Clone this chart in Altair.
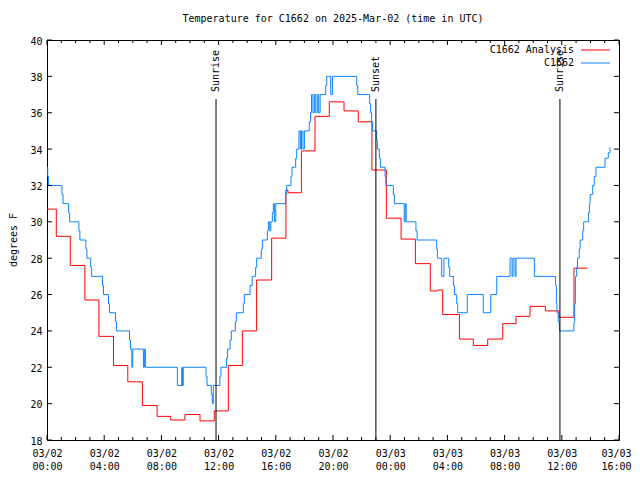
import json
import altair as alt
import pandas as pd

FONT = "DejaVu Sans Mono"

title_text = "Temperature for C1662 on 2025-Mar-02 (time in UTC)"
y_title = "degrees F"
legend_names = ["C1662 Analysis", "C1662"]
series_colors = ["#ff0000", "#0a84ff"]

# hours since 2025-03-02 00:00 UTC
obs_hours = [0.0, 0.05, 0.1, 1.05, 1.12, 1.51, 1.58, 2.23, 2.3, 2.72, 2.79, 3.05, 3.12,
             3.88, 3.95, 4.3, 4.37, 4.79, 4.86, 5.77, 5.84, 5.93, 6.0, 6.74, 6.81, 6.88,
             9.12, 9.42, 9.47, 9.53, 11.12, 11.19, 11.49, 11.56, 11.63, 12.09, 12.16,
             12.56, 12.63, 12.8, 12.89, 13.17, 13.24, 13.73, 13.8, 14.2, 14.35, 14.59, 14.66,
             14.99, 15.06, 15.41, 15.48, 15.58, 15.65, 15.76, 15.83, 15.9, 16.0, 16.69, 16.76,
             17.06, 17.13, 17.39, 17.46, 17.62, 17.72, 17.8, 17.9, 18.0, 18.34, 18.43,
             18.5, 18.6, 18.7, 18.8, 18.9, 19.0, 19.1, 19.49, 19.56, 19.84, 19.96,
             21.66, 21.73, 22.56, 22.63, 22.7, 22.77, 23.05, 23.1, 23.24, 23.31, 23.64, 23.7,
             24.22, 24.29, 24.98, 25.05, 25.12, 25.8, 25.88, 27.25, 27.3, 27.6, 27.76,
             28.09, 28.16, 28.42, 28.49, 28.65, 28.72, 29.39, 30.51, 31.03, 31.45,
             32.38, 32.52, 32.59, 32.73, 32.8, 34.08, 35.57, 35.62, 35.66, 35.75, 35.83,
             36.85, 36.9, 36.95, 37.04, 37.1, 37.22, 37.28, 37.46, 37.53, 37.86, 37.93,
             37.98, 38.16, 38.27, 38.39, 39.02, 39.25, 39.37]
obs_temps = [33, 32.5, 32, 31.5, 31, 30.5, 30, 29.5, 29, 28.5, 28, 27.5, 27,
             26.5, 26, 25.5, 25, 24.5, 24, 23.5, 23, 22, 23, 22, 23, 22,
             21, 22, 21, 22, 21.5, 21, 20.5, 20, 21, 21.5, 22,
             22.5, 23, 23.5, 24, 24.5, 25, 25.5, 26, 26.5, 27, 27.5, 28,
             28.5, 29, 29.5, 30, 29.5, 30, 30.5, 31, 30, 31, 31.5, 32,
             32.5, 33, 33.5, 34, 35, 34, 35, 34, 35, 35.5, 36,
             37, 36, 37, 36, 37, 36, 37, 37.5, 38, 37, 38,
             37.5, 37, 36.5, 36, 35.5, 35, 34.5, 34, 33.5, 33, 32.5, 32,
             31.5, 31, 30, 31, 30, 29.5, 29, 28.5, 28, 27, 28,
             27.5, 27, 26.5, 26, 25.5, 25, 26, 25, 26, 27,
             28, 27, 28, 27, 28, 27, 26.5, 25.5, 25, 24.5, 24,
             24.5, 25.5, 27, 27.5, 28, 28.5, 29, 29.5, 30, 30.5, 31,
             31.5, 32, 32.5, 33, 33.5, 33.8, 34.1]

ana_hours = [0.0, 0.65, 1.63, 2.65, 3.63, 4.65, 5.65, 6.67, 7.7, 8.65, 9.65, 10.7, 11.7,
             12.68, 13.66, 14.66, 15.71, 16.71, 16.85, 17.79, 18.74, 19.74, 20.77, 21.77,
             22.72, 23.73, 24.76, 25.76, 26.8, 27.3, 27.67, 28.84, 29.81, 30.82, 31.87,
             32.8, 33.78, 34.85, 35.8, 36.85, 37.8]
ana_temps = [30.7, 29.2, 27.6, 25.7, 23.7, 22.1, 21.2, 19.9, 19.3, 19.1, 19.4, 19.05, 19.6,
             22.1, 24.0, 26.8, 29.1, 31.75, 31.6, 33.9, 35.8, 36.6, 36.1, 35.5,
             32.85, 30.2, 29.05, 27.7, 26.2, 26.25, 24.9, 23.55, 23.2, 23.55, 24.4,
             24.8, 25.35, 25.1, 24.75, 27.45, 27.45]

sun_hours = [11.82, 23.0, 35.87]
sun_labels = ["Sunrise", "Sunset", "Sunrise"]

x_tick_hours = list(range(0, 41, 4))
x_tick_dates = ["03/02"] * 6 + ["03/03"] * 5
x_tick_times = ["00:00", "04:00", "08:00", "12:00", "16:00", "20:00",
                "00:00", "04:00", "08:00", "12:00", "16:00"]
x_minor_hours = [h for h in range(0, 41) if h % 4 != 0]
y_ticks = list(range(18, 41, 2))

W, H = 572, 400

label_expr = (
    f"[{json.dumps(x_tick_dates)}[indexof({json.dumps(x_tick_hours)}, datum.value)], "
    f"{json.dumps(x_tick_times)}[indexof({json.dumps(x_tick_hours)}, datum.value)]]"
)

xscale = alt.Scale(domain=[0, 40], nice=False, zero=False)
yscale = alt.Scale(domain=[18, 40], nice=False, zero=False)
xaxis = alt.Axis(values=x_tick_hours, ticks=False, domain=False, grid=False, title=None,
                 labelExpr=label_expr, labelPadding=8, labelBaseline="top",
                 labelLineHeight=13, labelFlush=False, labelOverlap=False, labelBound=False,
                 labelOffset={"condition": {"test": "datum.value == 40", "value": -3}, "value": 0},
                 labelFont=FONT, labelFontSize=10, labelColor="black")
yaxis = alt.Axis(values=y_ticks, ticks=False, domain=False, grid=False, title=None,
                 labelPadding=5, labelOffset=1, labelFont=FONT, labelFontSize=10,
                 labelColor="black", format="d", labelFlush=False, labelOverlap=False)


def X(field="h"):
    return alt.X(f"{field}:Q", scale=xscale, axis=xaxis)


def Y(field="t"):
    return alt.Y(f"{field}:Q", scale=yscale, axis=yaxis)


ana_df = pd.DataFrame({"h": ana_hours, "t": ana_temps})
obs_df = pd.DataFrame({"h": obs_hours, "t": obs_temps})

ana_line = alt.Chart(ana_df).mark_line(interpolate="step-after", color=series_colors[0],
                                       strokeWidth=1, clip=True).encode(x=X(), y=Y())
obs_line = alt.Chart(obs_df).mark_line(interpolate="step-after", color=series_colors[1],
                                       strokeWidth=1, clip=True).encode(x=X(), y=Y())

sun_df = pd.DataFrame({"h": sun_hours, "label": sun_labels})
sun_rules = alt.Chart(sun_df).mark_rule(color="black", strokeWidth=1).encode(
    x=X(), y=alt.value(59), y2=alt.value(H))
sun_text = alt.Chart(sun_df).mark_text(angle=270, align="left", baseline="middle",
                                       font=FONT, fontSize=10, color="black").encode(
    x=X(), y=alt.value(52), text="label:N")

yt_df = pd.DataFrame({"t": y_ticks})
ytick_left = alt.Chart(yt_df).mark_rule(color="black").encode(
    y=Y(), x=alt.value(0), x2=alt.value(5))
ytick_right = alt.Chart(yt_df).mark_rule(color="black").encode(
    y=Y(), x=alt.value(W - 5), x2=alt.value(W))

xmaj_df = pd.DataFrame({"h": x_tick_hours})
xmin_df = pd.DataFrame({"h": x_minor_hours})
xtick_major_b = alt.Chart(xmaj_df).mark_rule(color="black").encode(
    x=X(), y=alt.value(H - 5), y2=alt.value(H))
xtick_major_t = alt.Chart(xmaj_df).mark_rule(color="black").encode(
    x=X(), y=alt.value(0), y2=alt.value(5))
xtick_minor_b = alt.Chart(xmin_df).mark_rule(color="black").encode(
    x=X(), y=alt.value(H - 3), y2=alt.value(H))
xtick_minor_t = alt.Chart(xmin_df).mark_rule(color="black").encode(
    x=X(), y=alt.value(0), y2=alt.value(3))

legend_layers = []
for i, (name, col) in enumerate(zip(legend_names, series_colors)):
    ly = 10 + 13 * i
    d = pd.DataFrame({"name": [name]})
    legend_layers.append(alt.Chart(d).mark_text(align="right", baseline="middle", font=FONT,
                                                fontSize=10, color="black").encode(
        x=alt.value(527), y=alt.value(ly), text="name:N"))
    legend_layers.append(alt.Chart(d).mark_rule(color=col, strokeWidth=1).encode(
        x=alt.value(534), x2=alt.value(563), y=alt.value(ly)))

title_layer = alt.Chart(pd.DataFrame({"txt": [title_text]})).mark_text(
    align="center", baseline="middle", font=FONT, fontSize=10, color="black").encode(
    x=alt.value(W / 2), y=alt.value(-21), text="txt:N")
ytitle_layer = alt.Chart(pd.DataFrame({"txt": [y_title]})).mark_text(
    align="center", baseline="middle", font=FONT, fontSize=10, color="black", angle=270).encode(
    x=alt.value(-33), y=alt.value(200), text="txt:N")

chart = alt.layer(
    ana_line, obs_line, sun_rules, sun_text,
    ytick_left, ytick_right, xtick_major_b, xtick_major_t, xtick_minor_b, xtick_minor_t,
    *legend_layers, title_layer, ytitle_layer
).properties(
    width=W, height=H,
    autosize=alt.AutoSizeParams(type="none"),
    padding={"left": 39, "top": 32, "right": 13, "bottom": 32},
    background="white",
).configure_view(stroke="black", strokeWidth=1)

chart.save("out.html", embed_options={"renderer": "svg", "actions": False})
